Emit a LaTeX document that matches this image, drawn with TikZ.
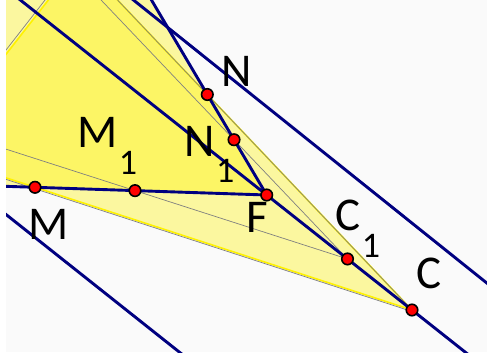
\documentclass[tikz,border=0pt]{standalone}
\usepackage{fontspec}
\setmainfont{Carlito}
\usetikzlibrary{calc}
\definecolor{navy}{RGB}{0,0,128}
\definecolor{bgc}{RGB}{250,250,250}
\definecolor{ggrey}{RGB}{128,128,128}
\newcommand{\subsz}{\fontsize{36}{36}\selectfont}
\begin{document}
\begin{tikzpicture}[x=1pt,y=-1pt,
  ptnode/.style={circle,fill=red,draw=black,line width=1.6pt,minimum size=11.5pt,inner sep=0pt},
  navyline/.style={draw=navy,line width=2.9pt},
  greyline/.style={draw=ggrey,line width=0.7pt},
  yedge/.style={draw=yellow,line width=1.6pt},
  region/.style={fill=yellow,fill opacity=0.36},
  lab/.style={inner sep=0pt,font=\fontsize{47}{47}\selectfont}]
\useasboundingbox (0,0) rectangle (487,358);
\fill[white] (0,0) rectangle (487,358);
\fill[bgc] (6,0) rectangle (487,352);
\coordinate (C) at (412,310);
\coordinate (F) at (266.7,195);
\coordinate (N) at (207.3,94.5);
\coordinate (M) at (35,187.3);
\coordinate (C1) at ($(F)!0.556!(C)$);
\coordinate (N1) at ($(N)!0.45!(F)$);
\coordinate (M1) at ($(M)!0.4316!(F)$);
\coordinate (Ua) at (127.2,-5);
\coordinate (Ub) at (495,289.6);
\coordinate (La) at (0,209.7);
\coordinate (Lb) at (189.3,360);
\coordinate (Pn) at ($(F)!2.688!(N)$);
\coordinate (Pm) at ($(F)!1.559!(M)$);
\begin{scope}
\clip (6,0) rectangle (487,352);
% regions
\path[region] (C) -- ($(C)!1.6!(N)$) -- (-30,-30) -- ($(C)!1.2!(M)$) -- cycle;
\path[region] (F) -- (Pn) -- (Pm) -- cycle;
% region edges
\draw[yedge] (C) -- ($(C)!1.6!(N)$);
\draw[yedge] (C) -- ($(C)!1.2!(M)$);
\draw[yedge] (Pn) -- (Pm);
% grey lines
\draw[greyline] (C1) -- ($(C1)!2.4!(N1)$);
\draw[greyline] (C1) -- ($(C1)!1.8!(M1)$);
\draw[greyline] (C) -- ($(C)!1.6!(N)$);
\draw[greyline] ([yshift=-1.5pt]C) -- ([yshift=-1.5pt]$(C)!1.2!(M)$);
\draw[greyline] ([xshift=-3.3pt]Pn) -- ([xshift=-3.3pt]Pm);
% navy lines
\draw[navyline] ($(F)!-2!(C)$) -- ($(F)!1.8!(C)$);
\draw[navyline] ($(F)!1.2!(M)$) -- (F);
\draw[navyline] ($(F)!2.2!(N)$) -- (F);
\draw[navyline] (Ua) -- (Ub);
\draw[navyline] (La) -- (Lb);
\end{scope}
% points
\node[ptnode] (pN) at (N) {};
\node[ptnode] (pN1) at (N1) {};
\node[ptnode] (pM) at (M) {};
\node[ptnode] (pM1) at (M1) {};
\node[ptnode] (pF) at (F) {};
\node[ptnode] (pC1) at (C1) {};
\node[ptnode] (pC) at (C) {};
% labels
\node[lab,anchor=base] (lN) at (236.5,87) {N};
\node[lab,anchor=base west] (lN1) at (184,157) {N\kern1.5pt\raisebox{-26pt}{\subsz 1}};
\node[lab,anchor=base west] (lM1) at (77,148) {M\kern1.5pt\raisebox{-27pt}{\subsz 1}};
\node[lab,anchor=base] (lM) at (48.5,240) {M};
\node[lab,anchor=base] (lF) at (257,233) {F};
\node[lab,anchor=base west] (lC1) at (335,230) {C\kern1.5pt\raisebox{-27pt}{\subsz 1}};
\node[lab,anchor=base] (lC) at (429.5,288) {C};
\end{tikzpicture}
\end{document}
